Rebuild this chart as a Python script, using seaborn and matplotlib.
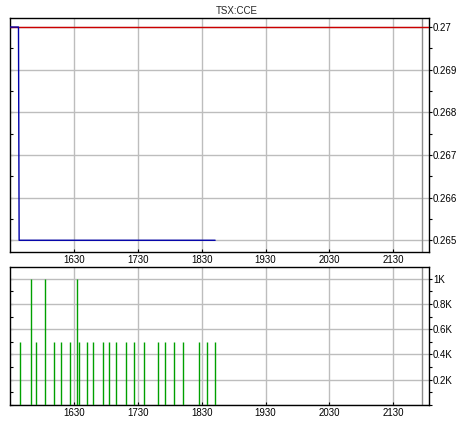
import matplotlib
matplotlib.use("Agg")
import matplotlib.pyplot as plt
import seaborn as sns
import pandas as pd
from matplotlib.ticker import MultipleLocator, FuncFormatter, AutoMinorLocator

sns.set_theme(style="white")
plt.rcParams['font.family'] = ['Liberation Sans', 'DejaVu Sans']

title = "TSX:CCE"
price_x = [1530, 1543, 1544, 1851]
price_y = [0.27, 0.27, 0.265, 0.265]
ref_level = 0.27
marker_x = 2175

vol_x = [1546, 1562, 1571, 1585, 1599, 1610, 1623, 1635, 1637, 1650, 1660,
         1676, 1685, 1696, 1712, 1724, 1739, 1762, 1773, 1787, 1800, 1826,
         1838, 1851]
vol_y = [500, 1000, 500, 1000, 500, 500, 500, 1000, 500, 500, 500,
         500, 500, 500, 500, 500, 500, 500, 500, 500, 500, 500,
         500, 500]
xticks = [1630, 1730, 1830, 1930, 2030, 2130]

W, H = 458, 421
fig = plt.figure(figsize=(W / 100, H / 100), dpi=100)
fig.patch.set_facecolor("white")

def rect(l, t, r, b):
    return [l / W, 1 - b / H, (r - l) / W, (b - t) / H]

ax1 = fig.add_axes(rect(10, 18, 429, 252))
ax2 = fig.add_axes(rect(10, 267, 429, 405))

df = pd.DataFrame({"x": price_x, "y": price_y})
ax1.axhline(ref_level, color="#cc0000", lw=1, zorder=3)
sns.lineplot(data=df, x="x", y="y", ax=ax1, color="#0000aa", lw=1, zorder=4,
             estimator=None, sort=False)
ax1.set_ylim(0.264725, 0.270212)
ax1.yaxis.set_major_locator(MultipleLocator(0.001))
ax1.yaxis.set_minor_locator(AutoMinorLocator(2))
ax1.yaxis.set_major_formatter(FuncFormatter(lambda v, p: f"{v:.3f}".rstrip("0")))

ax2.vlines(vol_x, 0, vol_y, color="#00a000", lw=1, zorder=3)
ax2.set_ylim(0, 1092)
ax2.yaxis.set_major_locator(MultipleLocator(200))
ax2.yaxis.set_minor_locator(AutoMinorLocator(2))
ax2.yaxis.set_major_formatter(FuncFormatter(
    lambda v, p: "" if v == 0 else (f"{v/1000:g}K")))

for ax in (ax1, ax2):
    ax.set_xlim(1529.7, 2186)
    ax.set_xticks(xticks)
    ax.set_xticklabels([str(t) for t in xticks])
    ax.grid(True, which="major", color="#bdbdbd", lw=1, zorder=0)
    ax.axvline(marker_x, color="#8c8c8c", lw=1, zorder=2)
    ax.set_xlabel("")
    ax.set_ylabel("")
    ax.yaxis.tick_right()
    ax.tick_params(axis="x", which="major", labelsize=7, length=2, width=0.8,
                   color="black", pad=2.5, labelcolor="black", direction="in",
                   bottom=True)
    ax.tick_params(axis="y", which="major", labelsize=7, length=2, width=0.8,
                   color="black", pad=0.8, labelcolor="black", direction="out",
                   right=True, left=False)
    ax.tick_params(axis="y", which="minor", length=2, width=0.8, color="black",
                   direction="out", right=True, left=False)
    for s in ax.spines.values():
        s.set_color("black")
        s.set_linewidth(1)
    ax.set_facecolor("white")
    sec = ax.secondary_yaxis("left")
    sec.yaxis.set_major_locator(ax.yaxis.get_major_locator())
    sec.yaxis.set_minor_locator(AutoMinorLocator(2))
    sec.tick_params(axis="y", which="both", direction="in", length=2,
                    width=0.8, labelleft=False, color="black")
    sec.spines["left"].set_visible(False)

fig.text(237 / W, 1 - 11 / H, title, ha="center", va="center", fontsize=7)

fig.savefig("out.png", dpi=100, facecolor="white")
